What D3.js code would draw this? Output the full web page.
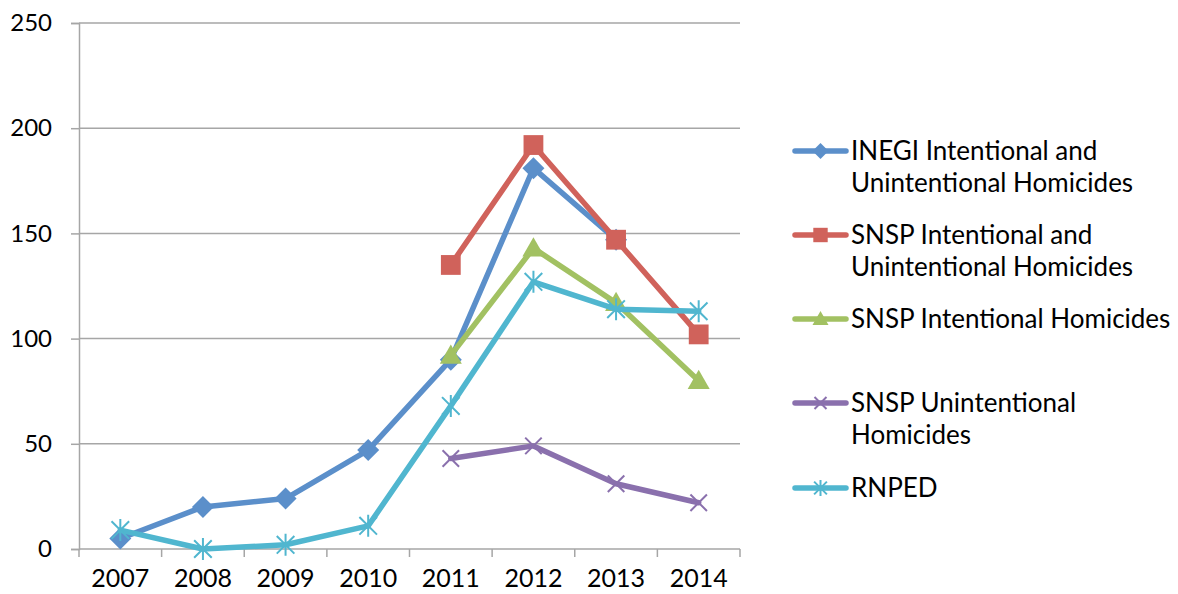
<!DOCTYPE html>
<html>
<head>
<meta charset="utf-8">
<script src="https://cdn.jsdelivr.net/npm/d3@7"></script>
<style>
  html, body { margin: 0; padding: 0; background: #fff; }
  svg text { font-family: Lato, "Open Sans", sans-serif; fill: #000; }
</style>
</head>
<body>
<svg id="chart" width="1178" height="594"></svg>
<script>
// Years on the category axis
const years = ["2007", "2008", "2009", "2010", "2011", "2012", "2013", "2014"];
const yTicks = [0, 50, 100, 150, 200, 250];

// Series values (null = no data for that year)
const inegiTotal   = [5, 20, 24, 47, 90, 181, 147, null];
const snspTotal    = [null, null, null, null, 135, 192, 147, 102];
const snspIntent   = [null, null, null, null, 92, 143, 117, 80];
const snspUnintent = [null, null, null, null, 43, 49, 31, 22];
const rnped        = [9, 0, 2, 11, 68, 127, 114, 113];

const seriesNames = [
  ["INEGI Intentional and", "Unintentional Homicides"],
  ["SNSP Intentional and", "Unintentional Homicides"],
  ["SNSP Intentional Homicides"],
  ["SNSP Unintentional", "Homicides"],
  ["RNPED"]
];
const seriesColors = ["#5b8fca", "#d0625b", "#a2c162", "#8a70ad", "#50b6cf"];
const seriesMarkers = ["diamond", "square", "triangle", "x", "star"];
const seriesValues = [inegiTotal, snspTotal, snspIntent, snspUnintent, rnped];

const svg = d3.select("#chart");
const plot = { left: 79, right: 740, top: 23, bottom: 549 };

const x = d3.scaleBand().domain(years).range([plot.left, plot.right]);
const y = d3.scaleLinear().domain([0, 250]).range([plot.bottom, plot.top]);

// Horizontal gridlines
svg.append("g")
  .selectAll("line")
  .data(yTicks.filter(d => d > 0))
  .join("line")
  .attr("x1", plot.left).attr("x2", plot.right)
  .attr("y1", d => y(d)).attr("y2", d => y(d))
  .attr("stroke", "#a6a6a6").attr("stroke-width", 1.5);

// Y axis
const yAxis = svg.append("g")
  .attr("transform", `translate(${plot.left},0)`)
  .call(d3.axisLeft(y).tickValues(yTicks).tickSize(8).tickPadding(19));
yAxis.select(".domain").attr("stroke", "#a6a6a6").attr("stroke-width", 1.5);
yAxis.selectAll(".tick line").attr("stroke", "#a6a6a6").attr("stroke-width", 1.5);
yAxis.selectAll(".tick text").style("font-size", "24px").attr("fill", "#000");

// X axis: tick marks on band boundaries, labels centred in bands
const xAxisG = svg.append("g").attr("transform", `translate(0,${plot.bottom})`);
xAxisG.append("line")
  .attr("x1", plot.left).attr("x2", plot.right)
  .attr("stroke", "#a6a6a6").attr("stroke-width", 1.5);
const boundaries = years.map(d => x(d)).concat([x.range()[1]]);
xAxisG.selectAll(".bt")
  .data(boundaries)
  .join("line")
  .attr("x1", d => d).attr("x2", d => d)
  .attr("y1", 0).attr("y2", 8)
  .attr("stroke", "#a6a6a6").attr("stroke-width", 1.5);
xAxisG.selectAll("text")
  .data(years)
  .join("text")
  .attr("x", d => x(d) + x.bandwidth() / 2)
  .attr("y", 38)
  .attr("text-anchor", "middle")
  .style("font-size", "25px")
  .text(d => d);

const cx = (i) => x(years[i]) + x.bandwidth() / 2;

function drawMarker(g, type, px, py, color, s) {
  if (type === "diamond") {
    g.append("path")
      .attr("d", `M${px},${py - s}L${px + s},${py}L${px},${py + s}L${px - s},${py}Z`)
      .attr("fill", color);
  } else if (type === "square") {
    g.append("rect")
      .attr("x", px - s * 0.9).attr("y", py - s * 0.9)
      .attr("width", s * 1.8).attr("height", s * 1.8)
      .attr("fill", color);
  } else if (type === "triangle") {
    g.append("path")
      .attr("d", `M${px},${py - s}L${px + s},${py + s * 0.75}L${px - s},${py + s * 0.75}Z`)
      .attr("fill", color);
  } else if (type === "x") {
    const r = s * 0.75;
    g.append("path")
      .attr("d", `M${px - r},${py - r}L${px + r},${py + r}M${px - r},${py + r}L${px + r},${py - r}`)
      .attr("stroke", color).attr("stroke-width", 2).attr("fill", "none");
  } else if (type === "star") {
    const r = s * 0.8;
    g.append("path")
      .attr("d", `M${px - r},${py - r}L${px + r},${py + r}M${px - r},${py + r}L${px + r},${py - r}M${px},${py - s}L${px},${py + s}`)
      .attr("stroke", color).attr("stroke-width", 2).attr("fill", "none");
  }
}

const line = d3.line()
  .defined(d => d.v !== null)
  .x(d => cx(d.i))
  .y(d => y(d.v));

seriesValues.forEach((vals, k) => {
  const g = svg.append("g");
  const pts = vals.map((v, i) => ({ v, i }));
  g.append("path")
    .datum(pts)
    .attr("d", line)
    .attr("fill", "none")
    .attr("stroke", seriesColors[k])
    .attr("stroke-width", 5.5)
    .attr("stroke-linejoin", "round")
    .attr("stroke-linecap", "round");
  pts.filter(d => d.v !== null).forEach(d => {
    drawMarker(g, seriesMarkers[k], cx(d.i), y(d.v), seriesColors[k], 11);
  });
});

// Legend
const legendY = [151, 235, 319, 403, 488];
seriesNames.forEach((lines, k) => {
  const g = svg.append("g");
  const ly = legendY[k];
  g.append("line")
    .attr("x1", 795).attr("x2", 846)
    .attr("y1", ly).attr("y2", ly)
    .attr("stroke", seriesColors[k]).attr("stroke-width", 5.5)
    .attr("stroke-linecap", "round");
  drawMarker(g, seriesMarkers[k], 820.5, ly, seriesColors[k], 8);
  lines.forEach((t, j) => {
    g.append("text")
      .attr("x", 851)
      .attr("y", ly + j * 32)
      .attr("dy", "0.35em")
      .style("font-size", "26px")
      .text(t);
  });
});
</script>
</body>
</html>
